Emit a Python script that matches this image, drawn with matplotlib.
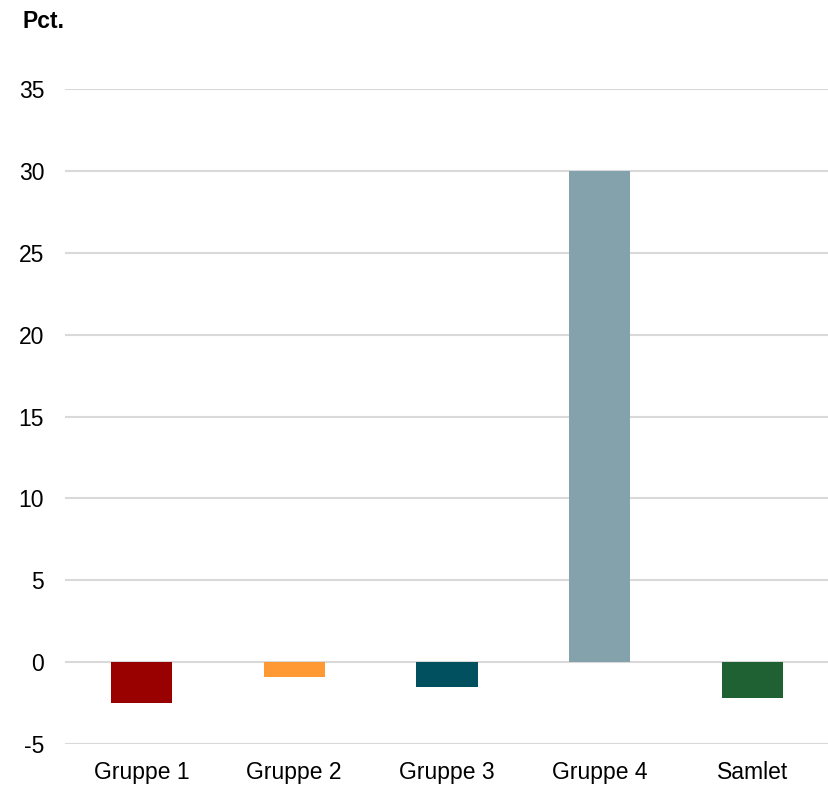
import matplotlib
matplotlib.use("Agg")
import matplotlib.pyplot as plt

categories = ["Gruppe 1", "Gruppe 2", "Gruppe 3", "Gruppe 4", "Samlet"]
values = [-2.5, -0.9, -1.5, 30.0, -2.2]
colors = ["#990000", "#FF9933", "#005060", "#84A2AB", "#1F6133"]
yticks = [-5, 0, 5, 10, 15, 20, 25, 30, 35]

plt.rcParams['font.family'] = ['Liberation Sans', 'DejaVu Sans']

fig = plt.figure(figsize=(8.29, 7.87), dpi=100)
ax = fig.add_axes([65/829, 1-744/787, 1-65/829, (744-89)/787])

x = list(range(len(categories)))
ax.bar(x, values, width=0.4, color=colors, zorder=3)
ax.set_xlim(-0.5, len(categories)-0.5)
ax.set_ylim(-5, 35)
ax.set_yticks(yticks)
ax.set_yticklabels([str(t) for t in yticks])
ax.set_xticks(x)
ax.set_xticklabels(categories)
ax.tick_params(axis='both', length=0, labelsize=16.5, colors='#000000')
ax.tick_params(axis='y', pad=15)
ax.tick_params(axis='x', pad=12)
ax.yaxis.grid(True, color='#d9d9d9', linewidth=1.5, zorder=0)
ax.set_axisbelow(True)
for s in ax.spines.values():
    s.set_visible(False)

fig.text(23/829, 1-22/787, "Pct.", fontsize=16.5, fontweight='bold', ha='left', va='center')

fig.savefig("out.png", dpi=100)
